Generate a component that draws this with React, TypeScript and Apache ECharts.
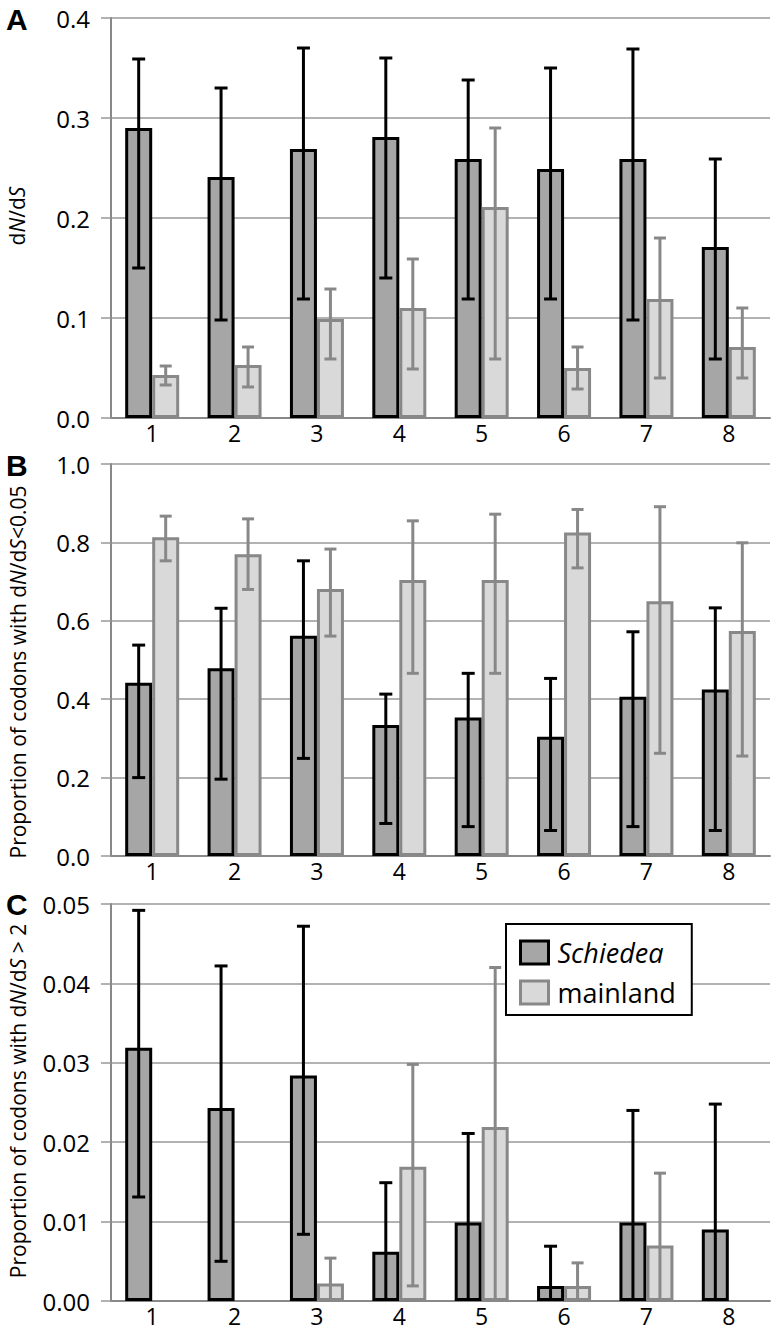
import React, { useEffect, useRef } from "react";
import * as echarts from "echarts";

const categories = ["1", "2", "3", "4", "5", "6", "7", "8"];

// Panel A: dN/dS
const schA = [0.29, 0.241, 0.269, 0.281, 0.259, 0.249, 0.259, 0.171];
const schALo = [0.15, 0.098, 0.119, 0.14, 0.119, 0.119, 0.098, 0.059];
const schAHi = [0.359, 0.33, 0.37, 0.36, 0.338, 0.35, 0.369, 0.259];
const mainA = [0.043, 0.053, 0.099, 0.11, 0.211, 0.05, 0.119, 0.071];
const mainALo = [0.033, 0.031, 0.059, 0.049, 0.059, 0.029, 0.04, 0.04];
const mainAHi = [0.052, 0.071, 0.129, 0.159, 0.29, 0.071, 0.18, 0.11];

// Panel B: proportion of codons with dN/dS < 0.05
const schB = [0.442, 0.479, 0.562, 0.334, 0.353, 0.304, 0.406, 0.425];
const schBLo = [0.2, 0.196, 0.249, 0.083, 0.075, 0.065, 0.075, 0.065];
const schBHi = [0.538, 0.632, 0.753, 0.413, 0.466, 0.453, 0.572, 0.633];
const mainB = [0.813, 0.77, 0.681, 0.704, 0.704, 0.825, 0.65, 0.574];
const mainBLo = [0.753, 0.68, 0.561, 0.466, 0.466, 0.735, 0.262, 0.255];
const mainBHi = [0.867, 0.86, 0.783, 0.855, 0.872, 0.884, 0.891, 0.799];

// Panel C: proportion of codons with dN/dS > 2
const schC = [0.0319, 0.0243, 0.0284, 0.0062, 0.0099, 0.0019, 0.0099, 0.009];
const schCLo = [0.0131, 0.005, 0.0084, 0, 0, 0, 0, 0];
const schCHi = [0.0492, 0.0422, 0.0472, 0.0149, 0.0211, 0.0069, 0.024, 0.0248];
const mainC = [null, null, 0.0022, 0.0169, 0.0219, 0.0019, 0.007, null];
const mainCLo = [null, null, 0, 0.0019, 0, 0, 0, null];
const mainCHi = [null, null, 0.0054, 0.0298, 0.042, 0.0048, 0.0161, null];

const yMaxes = [0.4, 1.0, 0.05];
const yIntervals = [0.1, 0.2, 0.01];
const yDecimals = [1, 1, 2];

const FONT = '"Open Sans", sans-serif';
const DARK_FILL = "#a6a6a6";
const LIGHT_FILL = "#d9d9d9";
const LIGHT_EDGE = "#888888";
const GRID_COLOR = "#999999";
const BAR_W = 27;

const gridBoxes = [
  { left: 111, top: 18, width: 659, height: 400 },
  { left: 111, top: 464, width: 659, height: 392 },
  { left: 111, top: 904, width: 659, height: 397 },
];

function errData(lo: (number | null)[], hi: (number | null)[]) {
  const out: number[][] = [];
  lo.forEach((l, i) => {
    const h = hi[i];
    if (l !== null && h !== null) out.push([i, l, h]);
  });
  return out;
}

function errSeries(idx: number, data: number[][], offset: number, color: string, capW: number) {
  return {
    type: "custom",
    name: "err" + idx + (offset < 0 ? "s" : "m"),
    xAxisIndex: idx,
    yAxisIndex: idx,
    clip: false,
    silent: true,
    z: 5,
    encode: { x: 0, y: [1, 2] },
    data,
    renderItem: (params: any, api: any) => {
      const i = api.value(0);
      const lo = api.value(1);
      const hi = api.value(2);
      const pTop = api.coord([i, hi]);
      const pBot = api.coord([i, lo]);
      const x = pTop[0] + offset;
      const style = { stroke: color, lineWidth: 3 };
      const children: any[] = [
        { type: "line", shape: { x1: x, y1: pTop[1], x2: x, y2: pBot[1] }, style },
        { type: "line", shape: { x1: x - capW / 2, y1: pTop[1], x2: x + capW / 2, y2: pTop[1] }, style },
      ];
      if (lo > 0) {
        children.push({
          type: "line",
          shape: { x1: x - capW / 2, y1: pBot[1], x2: x + capW / 2, y2: pBot[1] },
          style,
        });
      }
      return { type: "group", children };
    },
  };
}

function italicRich(size: number) {
  return {
    i: { fontStyle: "italic", fontSize: size, fontFamily: FONT, fill: "#000" },
  };
}

export default function App() {
  const ref = useRef<HTMLDivElement>(null);

  useEffect(() => {
    document.body.style.margin = "0";
    if (!ref.current) return;
    const chart = echarts.init(ref.current, null, { renderer: "svg" });

    const panels = [
      { s: schA, sl: schALo, sh: schAHi, m: mainA, ml: mainALo, mh: mainAHi },
      { s: schB, sl: schBLo, sh: schBHi, m: mainB, ml: mainBLo, mh: mainBHi },
      { s: schC, sl: schCLo, sh: schCHi, m: mainC, ml: mainCLo, mh: mainCHi },
    ];

    const grid = gridBoxes.map((g) => ({ ...g, containLabel: false }));

    const xAxis = panels.map((_, i) => ({
      type: "category",
      gridIndex: i,
      data: categories,
      axisLine: { lineStyle: { color: LIGHT_EDGE, width: 2 } },
      axisTick: { show: false },
      axisLabel: {
        color: "#000",
        fontFamily: FONT,
        fontSize: 23,
        lineHeight: 20,
        margin: 5,
      },
    }));

    const yAxis = panels.map((_, i) => ({
      type: "value",
      gridIndex: i,
      min: 0,
      max: yMaxes[i],
      interval: yIntervals[i],
      axisLine: { show: true, lineStyle: { color: LIGHT_EDGE, width: 2 } },
      axisTick: { show: true, length: 10, lineStyle: { color: GRID_COLOR, width: 1.5 } },
      splitLine: { show: true, lineStyle: { color: GRID_COLOR, width: 1.5 } },
      axisLabel: {
        color: "#000",
        fontFamily: FONT,
        fontSize: 24,
        lineHeight: 22,
        margin: 21,
        formatter: (v: number) => v.toFixed(yDecimals[i]),
      },
    }));

    const series: any[] = [];
    panels.forEach((p, i) => {
      series.push({
        type: "bar",
        name: "Schiedea",
        xAxisIndex: i,
        yAxisIndex: i,
        data: p.s,
        barWidth: BAR_W,
        barGap: "0%",
        z: 2,
        itemStyle: { color: DARK_FILL, borderColor: "#000", borderWidth: 3 },
        emphasis: { disabled: true },
      });
      series.push({
        type: "bar",
        name: "mainland",
        xAxisIndex: i,
        yAxisIndex: i,
        data: p.m,
        barWidth: BAR_W,
        barGap: "0%",
        z: 3,
        itemStyle: { color: LIGHT_FILL, borderColor: LIGHT_EDGE, borderWidth: 3 },
        emphasis: { disabled: true },
      });
    });
    panels.forEach((p, i) => {
      series.push(errSeries(i, errData(p.sl, p.sh), -BAR_W / 2, "#000", 13));
      series.push(errSeries(i, errData(p.ml, p.mh), BAR_W / 2, LIGHT_EDGE, 12));
    });

    const titleFont = 21;
    const titles = [
      { text: "d{i|N}/d{i|S}", x: 17, y: 216 },
      { text: "Proportion of codons with d{i|N}/d{i|S}<0.05", x: 18, y: 672 },
      { text: "Proportion of codons with d{i|N}/d{i|S} > 2", x: 18, y: 1101 },
    ];
    const letters = [
      { text: "A", y: 19 },
      { text: "B", y: 465 },
      { text: "C", y: 904 },
    ];

    const graphic: any[] = [
      ...titles.map((t) => ({
        type: "text",
        x: t.x,
        y: t.y,
        rotation: Math.PI / 2,
        style: {
          text: t.text,
          fontSize: titleFont,
          fontFamily: FONT,
          fill: "#000",
          align: "center",
          verticalAlign: "middle",
          rich: italicRich(titleFont),
        },
      })),
      ...letters.map((l) => ({
        type: "text",
        x: 6,
        y: l.y,
        style: {
          text: l.text,
          fontSize: 30,
          fontWeight: "bold",
          fontFamily: '"Liberation Sans", Arial, sans-serif',
          fill: "#000",
          align: "left",
          verticalAlign: "middle",
        },
      })),
    ];

    chart.setOption({
      animation: false,
      backgroundColor: "#fff",
      grid,
      xAxis,
      yAxis,
      series,
      graphic,
      legend: {
        left: 506,
        top: 924,
        orient: "vertical",
        backgroundColor: "#fff",
        borderColor: "#000",
        borderWidth: 2,
        padding: [15, 16, 9, 13],
        itemGap: 13,
        itemWidth: 28,
        itemHeight: 23,
        selectedMode: false,
        z: 10,
        data: [
          {
            name: "Schiedea",
            icon: "rect",
            itemStyle: { color: DARK_FILL, borderColor: "#000", borderWidth: 3 },
            textStyle: { fontStyle: "italic" },
          },
          {
            name: "mainland",
            icon: "rect",
            itemStyle: { color: LIGHT_FILL, borderColor: LIGHT_EDGE, borderWidth: 3 },
          },
        ],
        textStyle: {
          fontFamily: FONT,
          fontSize: 27,
          color: "#000",
          padding: [0, 0, 0, 4],
        },
      },
    });

    return () => chart.dispose();
  }, []);

  return <div ref={ref} style={{ width: 780, height: 1336 }} />;
}
